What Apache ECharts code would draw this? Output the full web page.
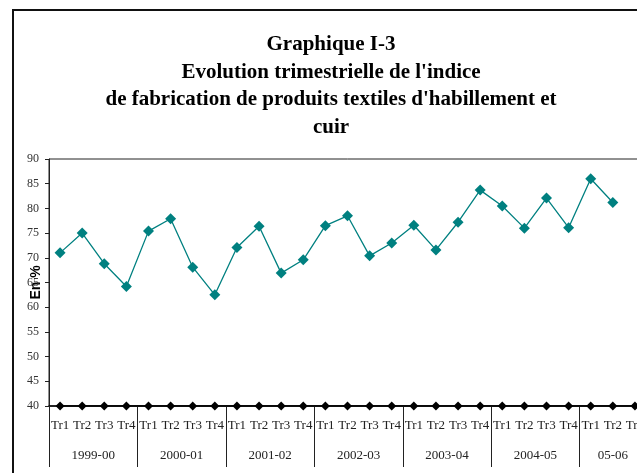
<!DOCTYPE html>
<html>
<head>
<meta charset="utf-8">
<script src="https://cdn.jsdelivr.net/npm/echarts@6/dist/echarts.min.js"></script>
<style>
html,body{margin:0;padding:0;overflow:hidden;background:#fff;}
#chart{width:700px;height:473px;}
</style>
</head>
<body>
<div id="chart"></div>
<script>
// trimestres et exercices
var quarters = ['Tr1','Tr2','Tr3','Tr4','Tr1','Tr2','Tr3','Tr4','Tr1','Tr2','Tr3','Tr4',
  'Tr1','Tr2','Tr3','Tr4','Tr1','Tr2','Tr3','Tr4','Tr1','Tr2','Tr3','Tr4','Tr1','Tr2','Tr3'];
var years = ['1999-00','2000-01','2001-02','2002-03','2003-04','2004-05','05-06'];
var quartersPerYear = [4,4,4,4,4,4,3];
// indice (en %)
var indice = [71.0, 75.0, 68.8, 64.2, 75.4, 77.9, 68.1, 62.5, 72.1, 76.4, 66.9, 69.6,
  76.5, 78.5, 70.4, 73.0, 76.6, 71.6, 77.2, 83.7, 80.5, 76.0, 82.1, 76.1, 86.0, 81.2, null];
// points noirs sur l'axe
var base = [40,40,40,40,40,40,40,40,40,40,40,40,40,40,40,40,40,40,40,40,40,40,40,40,40,40,40];

// axe des exercices : demi-trimestres, libelle au milieu de chaque groupe
var halfSlots = [];
var boundaries = {};
var start = 0;
for (var i = 0; i <= quarters.length * 2; i++) halfSlots.push('');
for (var y = 0; y < years.length; y++) {
  boundaries[start * 2] = true;
  halfSlots[start * 2 + quartersPerYear[y]] = years[y];
  start += quartersPerYear[y];
}
boundaries[start * 2] = true;

var serif = 'Liberation Serif';
var chart = echarts.init(document.getElementById('chart'));
var option = {
  animation: false,
  graphic: [{
    type: 'rect',
    shape: {x: 13, y: 10, width: 720, height: 520},
    style: {fill: 'none', stroke: '#111', lineWidth: 2}
  }],
  title: {
    text: "Graphique I-3\nEvolution trimestrielle de l'indice\nde fabrication de produits textiles d'habillement et\ncuir",
    left: 331,
    top: 31,
    padding: 0,
    textAlign: 'center',
    textStyle: {
      fontFamily: serif,
      fontWeight: 'bold',
      fontSize: 21,
      lineHeight: 27.5,
      color: '#000'
    }
  },
  grid: {
    left: 49, top: 159, right: 54, bottom: 67,
    containLabel: false,
    outerBoundsMode: 'none',
    show: true, borderColor: '#222', borderWidth: 1
  },
  xAxis: [{
    type: 'category',
    position: 'bottom',
    data: quarters,
    axisLine: {lineStyle: {color: '#000', width: 1.5}},
    axisTick: {show: false},
    axisLabel: {interval: 0, margin: 13, fontFamily: serif, fontSize: 13, color: '#222'}
  }, {
    type: 'category',
    position: 'bottom',
    boundaryGap: false,
    data: halfSlots,
    axisLine: {show: false},
    axisTick: {
      show: true, inside: false, length: 61,
      interval: function (idx) { return !!boundaries[idx]; },
      lineStyle: {color: '#222', width: 1}
    },
    axisLabel: {
      interval: function (idx, val) { return val !== ''; },
      margin: 43, fontFamily: serif, fontSize: 13, color: '#222'
    }
  }],
  yAxis: {
    type: 'value',
    min: 40, max: 90, interval: 5,
    name: 'En %',
    nameLocation: 'middle',
    nameRotate: 90,
    nameGap: 6,
    nameMoveOverlap: false,
    nameTextStyle: {fontFamily: 'Liberation Sans', fontWeight: 'bold', fontSize: 14, color: '#000'},
    axisLine: {show: true, lineStyle: {color: '#222', width: 1}},
    axisTick: {show: true, length: 4, lineStyle: {color: '#222'}},
    splitLine: {show: false},
    axisLabel: {margin: 10, fontFamily: serif, fontSize: 12, color: '#333'}
  },
  series: [{
    type: 'line',
    data: base,
    symbol: 'diamond',
    symbolSize: 9,
    itemStyle: {color: '#000'},
    lineStyle: {color: '#000', width: 1.5},
    z: 3
  }, {
    type: 'line',
    data: indice,
    symbol: 'diamond',
    symbolSize: 11,
    itemStyle: {color: '#008080'},
    lineStyle: {color: '#008080', width: 1.3},
    z: 4
  }]
};
chart.setOption(option);
</script>
</body>
</html>
